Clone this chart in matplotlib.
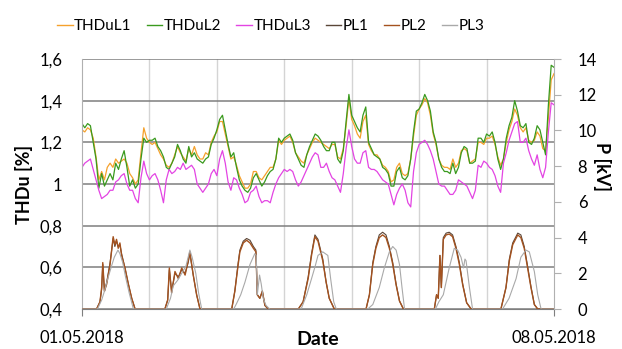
import numpy as np
import matplotlib.pyplot as plt
from matplotlib.lines import Line2D

plt.rcParams['font.family'] = ['Lato', 'DejaVu Sans']

# THDu, hourly readings from 01.05.2018 00:00 to 08.05.2018 00:00
hours = np.arange(169)
thdu_l1 = [1.26, 1.25, 1.27, 1.26, 1.22, 1.13, 1.02, 1.06, 1.02, 1.08, 1.10, 1.08, 1.12, 1.10, 1.11, 1.12, 1.10, 1.05, 1.03, 1.00, 1.02, 1.15, 1.27, 1.22,
           1.20, 1.19, 1.20, 1.17, 1.14, 1.12, 1.09, 1.08, 1.10, 1.14, 1.18, 1.15, 1.13, 1.11, 1.17, 1.14, 1.18, 1.14, 1.12, 1.12, 1.15, 1.14, 1.20, 1.23,
           1.25, 1.30, 1.30, 1.24, 1.18, 1.12, 1.13, 1.09, 1.04, 1.01, 0.98, 0.98, 1.00, 1.06, 1.06, 1.03, 1.02, 1.04, 1.06, 1.08, 1.08, 1.12, 1.21, 1.19,
           1.21, 1.22, 1.23, 1.20, 1.15, 1.13, 1.11, 1.10, 1.14, 1.17, 1.20, 1.22, 1.21, 1.20, 1.19, 1.18, 1.17, 1.19, 1.19, 1.13, 1.12, 1.17, 1.28, 1.41,
           1.31, 1.28, 1.24, 1.22, 1.30, 1.33, 1.19, 1.16, 1.14, 1.14, 1.12, 1.09, 1.08, 1.06, 1.01, 1.02, 1.08, 1.10, 1.05, 1.04, 1.05, 1.12, 1.23, 1.33,
           1.36, 1.38, 1.41, 1.39, 1.33, 1.24, 1.19, 1.12, 1.09, 1.08, 1.08, 1.07, 1.12, 1.08, 1.10, 1.16, 1.17, 1.16, 1.10, 1.11, 1.12, 1.20, 1.20, 1.19,
           1.22, 1.22, 1.23, 1.19, 1.13, 1.09, 1.12, 1.20, 1.26, 1.30, 1.36, 1.33, 1.27, 1.25, 1.27, 1.21, 1.20, 1.21, 1.25, 1.23, 1.17, 1.16, 1.32, 1.50, 1.53]
thdu_l2 = [1.29, 1.27, 1.29, 1.28, 1.20, 1.12, 0.98, 1.05, 0.99, 1.02, 1.05, 1.02, 1.10, 1.07, 1.12, 1.16, 1.08, 0.99, 1.02, 0.98, 1.00, 1.12, 1.22, 1.20,
           1.21, 1.21, 1.22, 1.18, 1.16, 1.13, 1.08, 1.07, 1.10, 1.13, 1.19, 1.16, 1.12, 1.10, 1.18, 1.13, 1.15, 1.12, 1.11, 1.10, 1.12, 1.13, 1.19, 1.22,
           1.26, 1.31, 1.33, 1.26, 1.19, 1.13, 1.15, 1.08, 1.02, 0.99, 0.97, 0.96, 0.98, 1.03, 1.05, 1.02, 0.99, 1.01, 1.04, 1.06, 1.07, 1.12, 1.22, 1.20,
           1.22, 1.23, 1.24, 1.21, 1.15, 1.12, 1.09, 1.08, 1.14, 1.18, 1.21, 1.24, 1.23, 1.21, 1.18, 1.16, 1.16, 1.20, 1.20, 1.12, 1.10, 1.16, 1.30, 1.43,
           1.33, 1.30, 1.27, 1.25, 1.33, 1.37, 1.20, 1.17, 1.14, 1.13, 1.12, 1.08, 1.07, 1.05, 0.99, 0.99, 1.06, 1.08, 1.03, 1.02, 1.04, 1.12, 1.25, 1.35,
           1.36, 1.39, 1.43, 1.40, 1.35, 1.25, 1.20, 1.12, 1.08, 1.06, 1.06, 1.05, 1.10, 1.05, 1.08, 1.15, 1.18, 1.17, 1.10, 1.10, 1.11, 1.22, 1.22, 1.20,
           1.24, 1.23, 1.25, 1.20, 1.12, 1.07, 1.12, 1.22, 1.28, 1.32, 1.40, 1.35, 1.28, 1.27, 1.29, 1.20, 1.19, 1.22, 1.28, 1.26, 1.20, 1.14, 1.38, 1.57, 1.56]
thdu_l3 = [1.08, 1.10, 1.11, 1.12, 1.07, 1.02, 0.97, 0.93, 0.94, 0.95, 0.97, 0.97, 1.01, 1.02, 1.04, 1.05, 1.00, 0.97, 0.97, 0.93, 0.91, 1.03, 1.11, 1.05,
           1.02, 1.04, 1.05, 1.02, 0.97, 0.91, 1.02, 1.07, 1.05, 1.06, 1.08, 1.07, 1.10, 1.07, 1.08, 1.09, 1.07, 1.00, 0.98, 0.96, 0.98, 1.00, 1.05, 1.07,
           1.04, 1.12, 1.16, 1.10, 1.01, 0.97, 1.03, 1.02, 0.98, 0.95, 0.91, 0.92, 0.96, 0.97, 0.99, 0.94, 0.91, 0.92, 0.92, 0.91, 0.96, 1.00, 1.03, 1.05,
           1.07, 1.06, 1.07, 1.06, 1.02, 0.99, 1.01, 1.04, 1.07, 1.10, 1.13, 1.15, 1.14, 1.08, 1.08, 1.10, 1.06, 1.03, 1.02, 0.99, 0.96, 1.05, 1.17, 1.26,
           1.18, 1.12, 1.10, 1.10, 1.15, 1.16, 1.08, 1.07, 1.07, 1.06, 1.04, 1.02, 1.01, 1.00, 0.95, 0.90, 0.95, 0.98, 1.00, 0.97, 0.91, 0.89, 1.06, 1.15,
           1.19, 1.20, 1.21, 1.19, 1.16, 1.12, 1.06, 1.00, 0.99, 0.99, 0.97, 0.95, 0.95, 0.97, 1.02, 1.01, 1.00, 0.99, 0.96, 0.93, 0.97, 1.09, 1.08, 1.11,
           1.10, 1.08, 1.07, 1.04, 0.99, 0.96, 1.10, 1.15, 1.21, 1.25, 1.29, 1.30, 1.20, 1.20, 1.22, 1.16, 1.12, 1.09, 1.14, 1.07, 1.03, 1.08, 1.25, 1.39, 1.38]

# power, hours and kV values
p12_hours = [0, 5.2, 6.4, 7.0, 7.4, 8.0, 8.8, 10.0, 11.1, 11.7, 12.3, 12.9, 13.5, 14.1, 15.3, 16.5, 17.7, 18.9,
             29.5, 30.5, 31.1, 31.9, 33.1, 34.3, 35.5, 36.7, 37.8, 38.4, 39.6, 40.8, 42.0,
             53.3, 54.4, 55.6, 56.2, 57.4, 58.6, 59.8, 61.0, 61.9, 62.4, 63.3, 64.2, 65.1, 66.3,
             77.0, 78.7, 80.5, 81.7, 82.9, 84.0, 85.7, 86.9, 88.0, 89.8,
             101.1, 102.3, 103.5, 104.6, 105.8, 107.0, 108.2, 109.4, 110.6, 111.8, 113.0, 114.4,
             125.4, 126.2, 126.8, 127.4, 127.9, 128.6, 129.6, 130.7, 131.9, 133.1, 134.3, 135.5, 136.9, 138.5,
             149.1, 150.9, 152.1, 153.3, 155.1, 156.2, 157.4, 158.6, 159.8, 161.0, 162.2, 168]
pl1 = [0, 0, 0.4, 1.1, 2.5, 1.0, 1.5, 2.6, 3.95, 3.5, 3.8, 3.5, 3.6, 3.1, 2.3, 1.4, 0.6, 0,
       0, 0.5, 2.2, 1.0, 2.0, 1.8, 2.2, 2.0, 2.6, 3.1, 1.9, 0.8, 0,
       0, 1.0, 2.6, 3.3, 3.8, 3.95, 3.85, 3.5, 3.3, 0.8, 0.6, 1.0, 0.2, 0,
       0, 0.4, 1.8, 3.1, 4.15, 3.9, 2.8, 1.5, 0.6, 0,
       0, 0.8, 2.6, 3.5, 4.15, 4.3, 4.15, 3.5, 2.6, 1.4, 0.45, 0,
       0, 0.8, 0.6, 3.0, 1.2, 4.0, 4.25, 4.3, 4.15, 3.5, 2.6, 1.4, 0.35, 0,
       0, 1.2, 2.8, 3.7, 4.25, 4.15, 3.5, 2.4, 1.25, 0.25, 0, 0]
pl2 = [0, 0, 0.4, 1.2, 2.6, 1.0, 1.4, 2.5, 4.05, 3.6, 3.9, 3.4, 3.7, 3.0, 2.3, 1.4, 0.6, 0,
       0, 0.5, 2.3, 0.9, 2.1, 1.7, 2.3, 1.9, 2.7, 3.2, 1.9, 0.8, 0,
       0, 1.0, 2.5, 3.2, 3.7, 3.85, 3.7, 3.4, 3.2, 0.8, 0.6, 1.0, 0.2, 0,
       0, 0.4, 1.7, 3.0, 4.05, 3.8, 2.7, 1.5, 0.6, 0,
       0, 0.8, 2.5, 3.4, 4.0, 4.15, 4.0, 3.4, 2.5, 1.35, 0.45, 0,
       0, 0.8, 0.6, 3.0, 1.2, 3.9, 4.15, 4.2, 4.05, 3.4, 2.5, 1.35, 0.35, 0,
       0, 1.2, 2.7, 3.6, 4.15, 4.0, 3.4, 2.3, 1.2, 0.25, 0, 0]
p3_hours = [0, 5.5, 7.0, 8.0, 9.0, 10.5, 11.5, 12.8, 13.5, 14.5, 15.5, 16.8, 18.3,
            30.0, 31.5, 32.5, 34.0, 35.5, 37.0, 38.4, 39.2, 40.5, 41.5, 42.6,
            54.0, 55.0, 56.5, 58.0, 59.8, 61.5, 62.0, 62.4, 63.2, 63.8, 64.5, 65.5, 66.8,
            78.0, 80.0, 81.7, 83.0, 84.0, 85.7, 87.5, 88.5, 89.6, 90.5,
            101.7, 103.5, 105.8, 107.6, 109.4, 110.6, 111.8, 113.0, 113.9, 114.8,
            125.8, 127.0, 128.6, 130.7, 132.5, 133.7, 134.9, 135.8, 136.3, 136.7, 137.9, 139.0,
            149.7, 152.0, 154.5, 156.2, 158.0, 159.2, 161.0, 162.2, 163.4, 168]
pl3 = [0, 0, 0.5, 1.0, 1.6, 2.4, 2.9, 3.3, 3.1, 2.6, 1.8, 0.9, 0,
       0, 0.6, 1.3, 1.6, 2.0, 2.4, 3.3, 2.9, 2.0, 0.9, 0,
       0, 0.3, 0.8, 1.5, 2.5, 3.1, 3.0, 0.8, 1.9, 1.4, 0.6, 0.2, 0,
       0, 0.8, 1.7, 2.4, 3.0, 3.2, 3.0, 1.7, 0.4, 0,
       0, 0.25, 1.2, 2.3, 3.2, 3.5, 3.3, 2.5, 1.2, 0,
       0, 0.4, 0.8, 2.3, 3.4, 3.3, 2.9, 2.3, 2.8, 2.7, 1.2, 0,
       0, 0.6, 1.7, 2.9, 3.3, 3.2, 2.1, 0.8, 0, 0]

date_labels = ['01.05.2018', '08.05.2018']
thdu_ticks = [0.4, 0.6, 0.8, 1.0, 1.2, 1.4, 1.6]
thdu_tick_labels = ['0,4', '0,6', '0,8', '1', '1,2', '1,4', '1,6']
p_ticks = [0, 2, 4, 6, 8, 10, 12, 14]

fig = plt.figure(figsize=(6.22, 3.49), dpi=100)
ax = fig.add_axes([0.1318, 0.1146, 0.7589, 0.7163])
ax2 = ax.twinx()

c1, c2, c3 = '#F5A12C', '#3A9A1E', '#E344E3'
cp1, cp2, cp3 = '#5A4638', '#A4521F', '#A9A9A9'

ax.plot(hours, thdu_l1, color=c1, lw=0.9)
ax.plot(hours, thdu_l2, color=c2, lw=0.9)
ax.plot(hours, thdu_l3, color=c3, lw=0.9)
ax2.plot(p12_hours, pl1, color=cp1, lw=0.8)
ax2.plot(p12_hours, pl2, color=cp2, lw=1.0)
ax2.plot(p3_hours, pl3, color=cp3, lw=0.8)

ax.set_xlim(0, 168)
ax.set_ylim(0.4, 1.6)
ax2.set_ylim(0, 14)

ax.set_yticks(thdu_ticks)
ax.set_yticklabels(thdu_tick_labels)
ax2.set_yticks(p_ticks)
ax.set_xticks([0, 168])
ax.set_xticklabels(date_labels)
ax.set_xticks(range(0, 169, 24), minor=True)

ax.grid(axis='y', color='#7f7f7f', lw=1.1)
ax.grid(axis='x', which='minor', color='#d4d4d4', lw=1.0)
ax.set_axisbelow(True)

for a in (ax, ax2):
    for s in a.spines.values():
        s.set_visible(False)
ax.spines['left'].set_visible(True)
ax.spines['left'].set_color('#b0b0b0')
ax.spines['bottom'].set_visible(True)
ax.spines['bottom'].set_color('#7f7f7f')
ax2.spines['right'].set_visible(True)
ax2.spines['right'].set_color('#b0b0b0')

ax.tick_params(axis='y', length=0, pad=14, labelsize=12)
ax.tick_params(axis='x', which='major', length=5, color='#7f7f7f', pad=10, labelsize=12)
ax.tick_params(axis='x', which='minor', length=0)
ax2.tick_params(axis='y', length=5, color='#b0b0b0', pad=12, labelsize=12)

ax.set_xlabel('Date', fontweight='bold', fontsize=14, labelpad=-11)
ax.set_ylabel('THDu [%]', fontweight='bold', fontsize=13, labelpad=5)
ax2.set_ylabel('P [kV]', fontweight='bold', fontsize=13, rotation=270, va='center')
ax2.yaxis.set_label_coords(1.1017, 0.572)

handles = [Line2D([], [], color=c, lw=1) for c in (c1, c2, c3, cp1, cp2, cp3)]
labels = ['THDuL1', 'THDuL2', 'THDuL3', 'PL1', 'PL2', 'PL3']
fig.legend(handles, labels, loc='center left', bbox_to_anchor=(0.07, 0.925), ncol=6,
           frameon=False, fontsize=11, handlelength=1.0, handletextpad=0.1,
           columnspacing=1.0)

fig.savefig('out.png', dpi=100)
